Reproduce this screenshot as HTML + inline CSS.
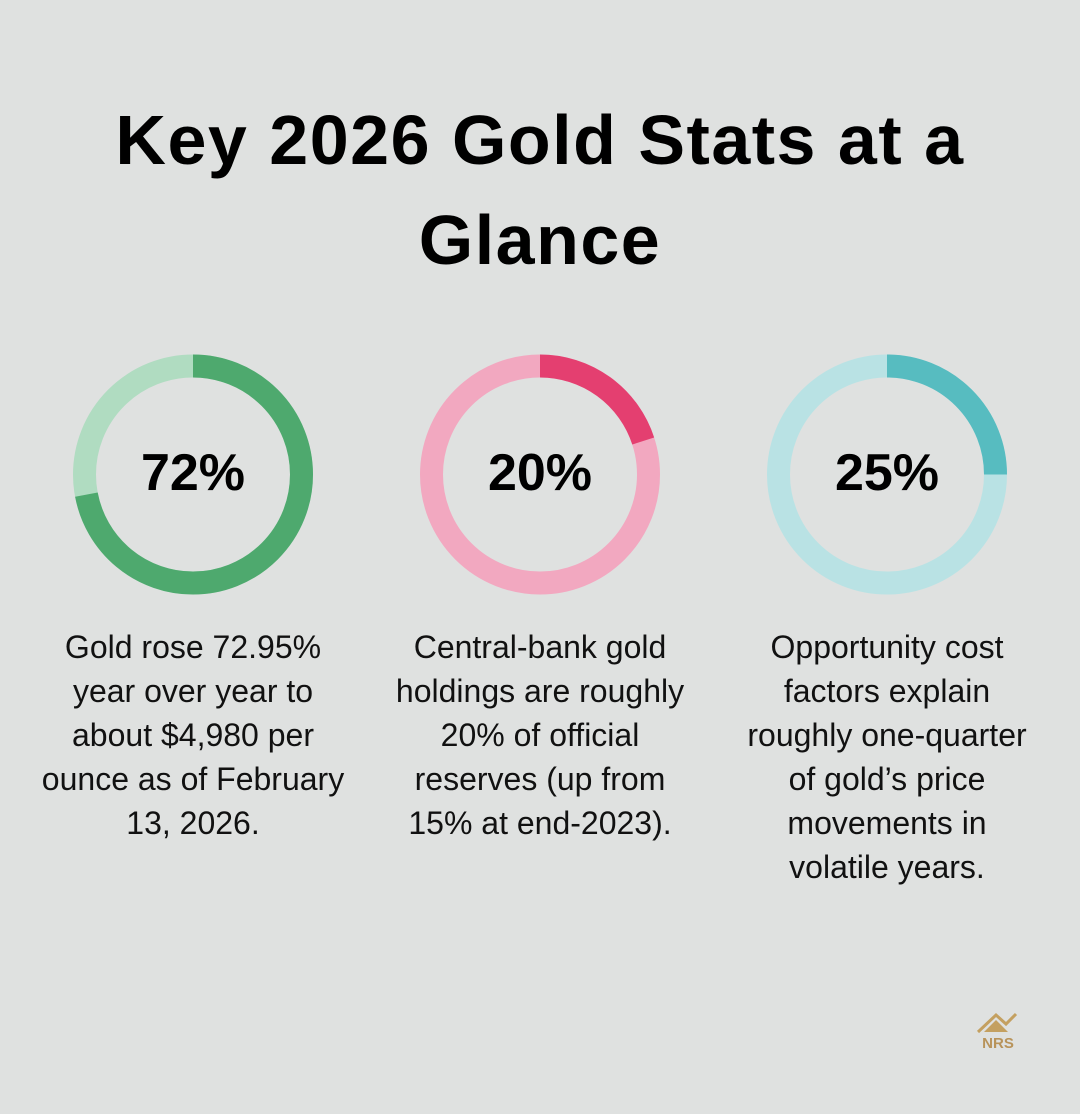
<!DOCTYPE html>
<html><head><meta charset="utf-8"><style>
body{margin:0;width:1080px;height:1114px;background:#dfe1e0;font-family:"Liberation Sans",sans-serif;position:relative;overflow:hidden}
h1{position:absolute;top:90px;left:0;width:1080px;margin:0;text-align:center;font-size:70px;line-height:100px;font-weight:bold;color:#000;letter-spacing:1.5px}
.t{position:absolute;top:625px;width:360px;text-align:center;font-size:32px;line-height:44px;color:#111;white-space:nowrap}
.n{position:absolute;top:440px;width:240px;text-align:center;font-size:52px;line-height:66px;color:#000;font-weight:bold}
</style></head><body>
<h1>Key 2026 Gold Stats at a<br>Glance</h1>
<svg width="1080" height="1114" style="position:absolute;left:0;top:0">
<g fill="none" stroke-width="23">
<circle cx="193" cy="474.5" r="108.5" stroke="#b0dcc1"/>
<circle cx="193" cy="474.5" r="108.5" stroke="#4ea96e" stroke-dasharray="490.8 1000" transform="rotate(-90 193 474.5)"/>
<circle cx="540" cy="474.5" r="108.5" stroke="#f2a8c0"/>
<circle cx="540" cy="474.5" r="108.5" stroke="#e43f70" stroke-dasharray="136.3 1000" transform="rotate(-90 540 474.5)"/>
<circle cx="887" cy="474.5" r="108.5" stroke="#b9e2e4"/>
<circle cx="887" cy="474.5" r="108.5" stroke="#57bcc0" stroke-dasharray="170.4 1000" transform="rotate(-90 887 474.5)"/>
</g>
<g fill="none" stroke="#c4a060" stroke-width="3">
<polyline points="978,1032 996,1015 1006,1024 1016,1014"/>
</g>
<polygon points="984,1032 996,1020 1008,1032" fill="#c4a060"/>
<text x="998" y="1048" text-anchor="middle" font-family="Liberation Sans" font-weight="bold" font-size="15" fill="#b8935a">NRS</text>
</svg>
<div class="n" style="left:73px">72%</div>
<div class="n" style="left:420px">20%</div>
<div class="n" style="left:767px">25%</div>
<div class="t" style="left:13px">Gold rose 72.95%<br>year over year to<br>about $4,980 per<br>ounce as of February<br>13, 2026.</div>
<div class="t" style="left:360px">Central-bank gold<br>holdings are roughly<br>20% of official<br>reserves (up from<br>15% at end-2023).</div>
<div class="t" style="left:707px">Opportunity cost<br>factors explain<br>roughly one-quarter<br>of gold’s price<br>movements in<br>volatile years.</div>
</body></html>
